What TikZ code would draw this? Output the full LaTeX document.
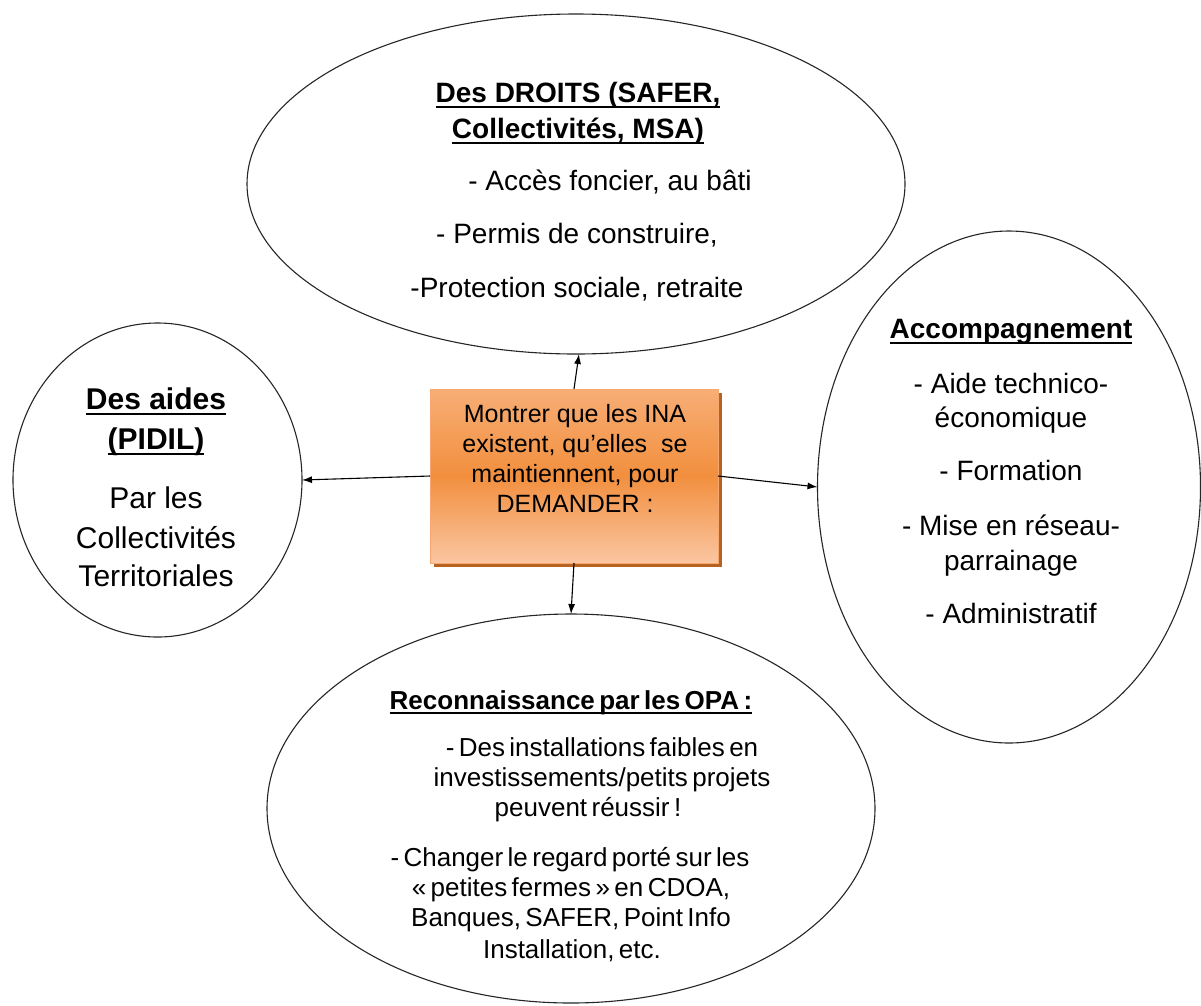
\documentclass[tikz,border=0pt]{standalone}
\usepackage{fontspec}
\setmainfont{Liberation Sans}
\usetikzlibrary{shapes.geometric,arrows.meta}
\definecolor{shadowc}{RGB}{184,98,34}
\definecolor{boxborder}{RGB}{246,168,110}
\definecolor{boxtop}{RGB}{247,174,118}
\definecolor{boxmid}{RGB}{242,143,62}
\definecolor{boxbot}{RGB}{250,198,162}
\newcommand{\myul}[1]{\setbox0\hbox{#1}\dp0=0pt\vtop{\box0\kern0.13em\hrule height0.075em}}
\newcommand{\tightsp}{\spaceskip=0.17em plus 0.05em\relax}
\begin{document}
\begin{tikzpicture}[x=1pt,y=-1pt,
  bub/.style={draw=black!85, line width=1.1pt, ellipse, inner sep=0pt, outer sep=0pt},
  arr/.style={-{Latex[length=10pt,width=7pt]}, line width=1.1pt, black},
  ln/.style={anchor=base, inner sep=0pt, outer sep=0pt},
  ft/.style={ln, font=\fontsize{28}{34}\selectfont},
  fb/.style={ln, font=\fontsize{26}{30}\selectfont, execute at begin node=\tightsp},
  fl/.style={ln, font=\fontsize{30}{36}\selectfont},
  fc/.style={ln, font=\fontsize{25}{30}\selectfont}]
\useasboundingbox (0,0) rectangle (1201,1005);
\fill[white] (0,0) rectangle (1201,1005);

% bubbles
\node[bub, minimum width=658pt, minimum height=340pt] (top) at (576,184) {};
\node[bub, minimum width=289pt, minimum height=314pt] (left) at (157.5,480) {};
\node[bub, minimum width=383pt, minimum height=512pt] (right) at (1009,487) {};
\node[bub, minimum width=608pt, minimum height=389pt] (bot) at (571,808.5) {};

% central box
\fill[shadowc] (434,393) rectangle (722,567);
\node[draw=boxborder, line width=0.8pt, minimum width=288pt, minimum height=174pt,
      inner sep=0pt, outer sep=0pt, top color=boxtop, bottom color=boxbot, middle color=boxmid] (box) at (574,476) {};
\node[fc] (c1) at (575,422) {Montrer que les INA};
\node[fc] (c2) at (575,452) {existent, qu’elles\ \ se};
\node[fc] (c3) at (575,482) {maintiennent, pour};
\node[fc] (c4) at (575,512) {DEMANDER :};

% arrows
\draw[arr] (box.north) -- (top.-89.5);
\draw[arr] (box.south) -- (bot.north);
\draw[arr] (box.west) -- (left.east);
\draw[arr] (box.east) -- (right.west);

% top text
\node[ft] (t1) at (578,102) {\bfseries\myul{Des DROITS (SAFER,}};
\node[ft] (t2) at (578,138) {\bfseries\myul{Collectivités, MSA)}};
\node[ft] (t3) at (610,190) {- Accès foncier, au bâti};
\node[ft] (t4) at (577,243) {- Permis de construire,};
\node[ft] (t5) at (577,297) {-Protection sociale, retraite};

% left text
\node[fl] (l1) at (156,409) {\bfseries\myul{Des aides}};
\node[fl] (l2) at (156,449) {\bfseries\myul{(PIDIL)}};
\node[fl] (l3) at (156,508) {Par les};
\node[fl] (l4) at (156,548) {Collectivités};
\node[fl] (l5) at (156,586) {Territoriales};

% right text
\node[ft] (r1) at (1011,338) {\bfseries\myul{Accompagnement}};
\node[ft] (r2) at (1011,393) {- Aide technico-};
\node[ft] (r3) at (1011,427) {économique};
\node[ft] (r4) at (1011,480) {- Formation};
\node[ft] (r5) at (1011,535) {- Mise en réseau-};
\node[ft] (r6) at (1011,570) {parrainage};
\node[ft] (r7) at (1011,623) {- Administratif};

% bottom text
\node[fb] (b1) at (571,709) {\bfseries\myul{Reconnaissance par les OPA :}};
\node[fb] (b2) at (602,756) {- Des installations faibles en};
\node[fb] (b3) at (602,786) {investissements/petits projets};
\node[fb] (b4) at (588,816) {peuvent réussir !};
\node[fb] (b5) at (570,866) {- Changer le regard porté sur les};
\node[fb] (b6) at (571,896) {« petites fermes » en CDOA,};
\node[fb] (b7) at (571,926) {Banques, SAFER, Point Info};
\node[fb] (b8) at (572,958) {Installation, etc.};
\end{tikzpicture}
\end{document}
